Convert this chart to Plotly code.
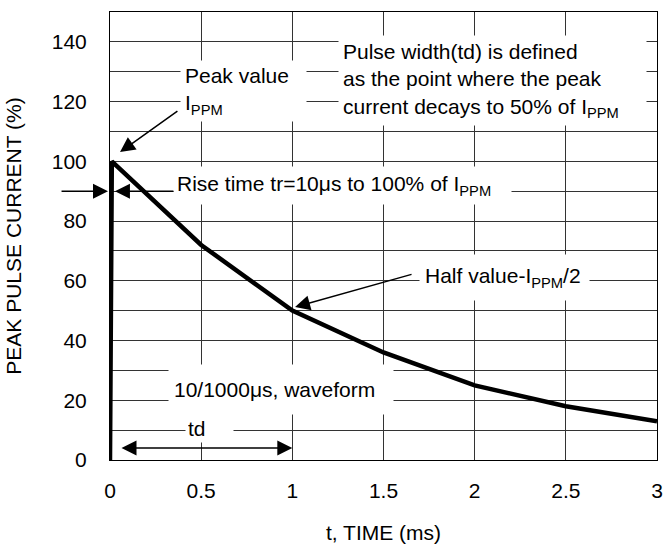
import plotly.graph_objects as go

# ---- data ----
time_ms = [0.0, 0.01, 0.5, 1.0, 1.5, 2.0, 2.5, 3.0]
current_pct = [0, 100, 72, 50, 36, 25, 18, 13]

x_tick_vals = [0, 0.5, 1, 1.5, 2, 2.5, 3]
x_tick_text = ["0", "0.5", "1", "1.5", "2", "2.5", "3"]
y_tick_vals = [0, 10, 20, 30, 40, 50, 60, 70, 80, 90, 100, 110, 120, 130, 140, 150]
y_tick_text = ["0", "", "20", "", "40", "", "60", "", "80", "", "100", "", "120", "", "140", ""]

FONT = "Arial, Liberation Sans, sans-serif"
FS = 21

fig = go.Figure()
fig.add_trace(go.Scatter(
    x=time_ms, y=current_pct, mode="lines",
    line=dict(color="black", width=4.5),
    showlegend=False, hoverinfo="skip",
))

# ---- text boxes (white background hides grid) ----
def text_box(x, y, text, xanchor="left", pad=6, width=None, height=None):
    fig.add_annotation(
        x=x, y=y, xref="x", yref="y", text=text, showarrow=False,
        xanchor=xanchor, yanchor="middle", align="left", valign="middle",
        bgcolor="white", borderpad=pad, width=width, height=height,
        font=dict(family=FONT, size=FS, color="black"),
    )

text_box(0.384, 123.5, "Peak value<br>I<sub>PPM</sub>", pad=4, width=117, height=52)
text_box(1.250, 127.1,
         "Pulse width(td) is defined<br>as the point where the peak<br>current decays to 50% of I<sub>PPM</sub>",
         pad=4, width=299, height=81)
text_box(0.3455, 92.0, "Rise time tr=10\u03bcs to 100% of I<sub>PPM</sub>", pad=3, width=331, height=31)
text_box(1.695, 61.0, "Half value-I<sub>PPM</sub>/2", pad=5, width=159, height=35)
text_box(0.318, 23.6, "10/1000\u03bcs, waveform", pad=5, width=214, height=39)
text_box(0.546, 10.7, "td", xanchor="center", pad=2, width=43, height=24)

# ---- arrows ----
def arrow(x_head, y_head, x_tail, y_tail, side="end", standoff=0):
    fig.add_annotation(
        x=x_head, y=y_head, ax=x_tail, ay=y_tail,
        xref="x", yref="y", axref="x", ayref="y",
        text="", showarrow=True, arrowhead=2, startarrowhead=2,
        arrowsize=2, startarrowsize=2, arrowwidth=1.5, arrowcolor="black",
        arrowside=side, standoff=standoff,
    )

arrow(0.055, 103.1, 0.378, 117.2)                 # peak value
arrow(0.0, 90, -0.274, 90, standoff=2)            # rise time, left (outside plot)
arrow(0.027, 90, 0.356, 90)                       # rise time, right
arrow(1.015, 51.2, 1.662, 62.3)                   # half value
arrow(1.0, 4.0, 0.055, 4.0, side="end+start")     # td

axis_common = dict(
    showgrid=True, gridcolor="#333333", gridwidth=1,
    zeroline=False, showline=True, linecolor="black", linewidth=1, mirror=True,
    ticks="outside", tickcolor="rgba(0,0,0,0)", automargin=False,
    tickfont=dict(family=FONT, size=FS, color="black"),
)

fig.update_layout(
    width=666, height=546,
    margin=dict(l=110, r=9, t=12, b=86),
    plot_bgcolor="white", paper_bgcolor="white",
    font=dict(family=FONT, size=FS, color="black"),
    xaxis=dict(
        range=[0, 3], tickmode="array", tickvals=x_tick_vals, ticktext=x_tick_text,
        ticklen=12,
        title=dict(text="t, TIME (ms)", font=dict(family=FONT, size=FS), standoff=24),
        **axis_common,
    ),
    yaxis=dict(
        range=[0, 150], tickmode="array", tickvals=y_tick_vals, ticktext=y_tick_text,
        ticklen=18,
        title=dict(text="PEAK PULSE CURRENT (%)", font=dict(family=FONT, size=FS), standoff=24),
        **axis_common,
    ),
)

fig.write_html("out.html", config={"displayModeBar": False},
               post_script="document.body.style.margin='0';")
